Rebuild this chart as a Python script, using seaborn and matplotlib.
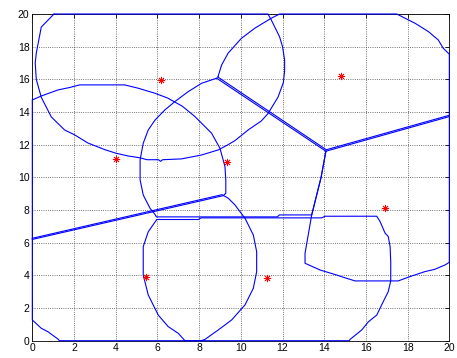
import matplotlib
matplotlib.use('Agg')
import matplotlib.pyplot as plt
import seaborn as sns

# sensor positions (red stars)
sensor_x = [6.15, 4.0, 9.35, 14.8, 5.45, 11.25, 16.9]
sensor_y = [15.95, 11.15, 10.95, 16.2, 3.9, 3.85, 8.15]

# coverage region boundaries
r1_x = [1.04, 0.43, 0.19, 0.14, 0.19, 0.43, 0.91, 1.55, 2.03, 2.67, 3.47, 4.03, 4.59, 5.15, 5.5,
        6.05, 6.15, 6.25, 7.16, 8.12, 8.92, 9.39, 9.72, 10.35, 10.98, 11.3, 11.78, 12.04, 12.1,
        12.1, 12.0, 11.86, 11.46, 11.3, 1.04]
r1_y = [20, 19.2, 17.6, 17.0, 16.0, 14.9, 13.7, 12.9, 12.6, 12.1, 11.7, 11.47, 11.31, 11.2, 11.08,
        11.08, 10.98, 11.08, 11.13, 11.37, 11.68, 12.0, 12.25, 12.9, 13.45, 13.9, 14.9, 15.8, 16.5,
        17.2, 18.0, 18.6, 19.64, 20, 20]

r2_x = [0, 0.43, 1.23, 1.79, 2.27, 4.43, 5.07, 5.88, 6.5, 7.2, 7.8, 8.6, 9.0, 9.24, 9.28, 9.28,
        9.16, 0, 0]
r2_y = [14.74, 14.98, 15.35, 15.5, 15.66, 15.66, 15.46, 15.15, 14.85, 14.35, 13.72, 12.7, 11.78,
        10.66, 9.84, 9.03, 8.88, 6.2, 14.74]

r3_x = [8.84, 8.12, 7.48, 6.84, 6.36, 5.88, 5.56, 5.32, 5.17, 5.17, 5.32, 5.65, 5.88, 5.95, 11.75,
        11.85, 13.4, 13.85, 14.08, 8.84]
r3_y = [16.07, 15.76, 15.25, 14.64, 14.13, 13.5, 12.9, 12.09, 11.07, 9.84, 8.92, 8.1, 7.74, 7.58,
        7.58, 7.7, 7.7, 10.0, 11.6, 16.07]

r4_x = [0, 9.1, 9.4, 9.72, 9.96, 10.2, 10.6, 10.76, 10.76, 10.6, 10.2, 9.56, 8.92, 8.28, 8.1, 1.3,
        1.23, 0.75, 0.43, 0, 0]
r4_y = [6.27, 8.94, 8.72, 8.31, 7.9, 7.5, 6.47, 5.45, 4.23, 3.21, 2.19, 1.27, 0.66, 0.08, 0, 0,
        0.1, 0.55, 0.76, 1.27, 6.27]

r5_x = [5.97, 7.96, 8.1, 13.88, 14.04, 16.52, 16.68, 16.92, 17.07, 17.16, 17.19, 17.19, 17.07,
        16.83, 16.52, 16.12, 15.8, 15.24, 15.2, 7.32, 7.0, 6.52, 6.04, 5.56, 5.32, 5.32, 5.56, 5.97]
r5_y = [7.42, 7.42, 7.52, 7.52, 7.62, 7.62, 7.29, 6.58, 6.38, 5.76, 4.84, 3.66, 3.0, 2.39, 1.57,
        1.16, 0.66, 0.08, 0, 0, 0.45, 0.86, 1.57, 2.8, 4.02, 5.76, 6.67, 7.42]

r6_x = [14.08, 13.85, 13.4, 13.08, 13.08, 13.8, 14.6, 15.0, 15.48, 17.55, 18.1, 18.83, 19.3, 19.8,
        20, 20, 14.08]
r6_y = [11.6, 10.0, 7.7, 5.35, 4.74, 4.33, 4.02, 3.85, 3.66, 3.66, 3.92, 4.23, 4.37, 4.64, 4.8,
        13.72, 11.6]

r7_x = [8.9, 9.08, 9.39, 10.02, 10.67, 11.46, 11.86, 17.48, 17.88, 18.36, 19.0, 19.47, 19.71, 20,
        20, 14.1, 8.9]
r7_y = [16.14, 16.88, 17.6, 18.5, 19.13, 19.74, 20, 20, 19.74, 19.43, 18.92, 18.41, 17.9, 17.54,
        13.8, 11.69, 16.14]

ticks = list(range(0, 21, 2))

sns.set_style('white')
plt.rcParams['font.family'] = ['Liberation Sans', 'DejaVu Sans']

fig = plt.figure(figsize=(4.57, 3.58), dpi=100)
ax = fig.add_axes([0.0707, 0.0483, 0.9125, 0.9126])

regions = [(r1_x, r1_y), (r2_x, r2_y), (r3_x, r3_y), (r4_x, r4_y),
           (r5_x, r5_y), (r6_x, r6_y), (r7_x, r7_y)]
for rx, ry in regions:
    sns.lineplot(x=rx, y=ry, sort=False, estimator=None, color='#0000ff',
                 lw=0.8, ax=ax, clip_on=False, zorder=3)

sns.scatterplot(x=sensor_x, y=sensor_y, marker=(8, 2, 0), s=22, color='red',
                edgecolor='red', linewidth=0.6, ax=ax, zorder=4)

ax.set_xlim(0, 20)
ax.set_ylim(0, 20)
ax.set_xticks(ticks)
ax.set_yticks(ticks)
ax.grid(True, linestyle=':', color='#444444', linewidth=0.6)
ax.tick_params(direction='in', length=3, width=0.6, top=True, right=True,
               labelsize=7.5, pad=2, colors='black')
for sp in ax.spines.values():
    sp.set_color('black')
    sp.set_linewidth(0.6)

fig.savefig('out.png', dpi=100)
